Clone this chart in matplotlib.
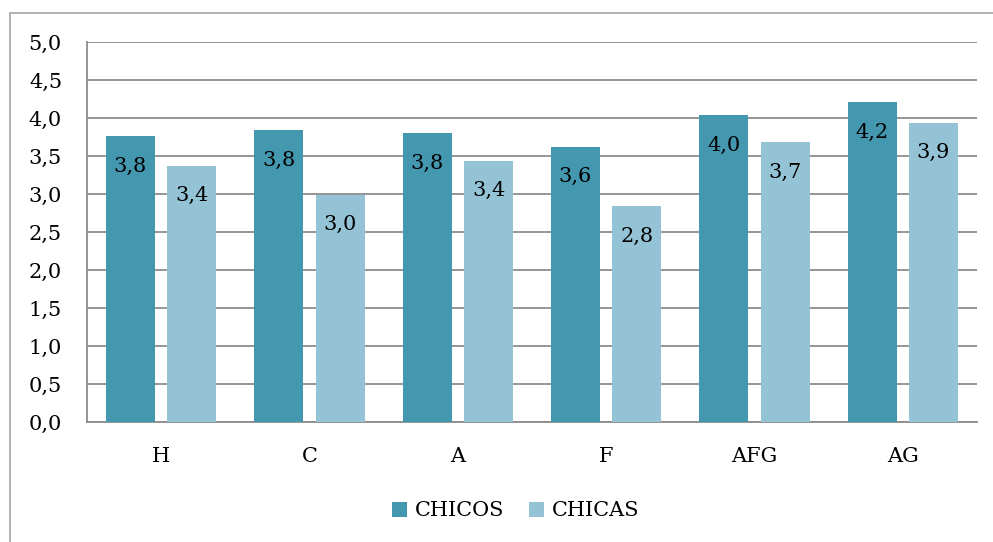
import matplotlib.pyplot as plt
import matplotlib.patches as mpatches
import numpy as np

plt.rcParams['font.family'] = ['DejaVu Serif']

categorias = ['H', 'C', 'A', 'F', 'AFG', 'AG']
chicos = [3.76, 3.84, 3.80, 3.62, 4.04, 4.21]
chicas = [3.37, 2.99, 3.44, 2.84, 3.68, 3.94]

col_chicos = '#4398b0'
col_chicas = '#93c3d5'
gris = '#8c8c8c'
fs = 15


def fmt(v):
    return f'{v:.1f}'.replace('.', ',')


fig = plt.figure(figsize=(9.93, 5.42), dpi=100)
ax = fig.add_axes([87 / 993, 120 / 542, 890 / 993, 380 / 542])

# marco exterior del grafico
fig.patches.append(mpatches.Rectangle((10 / 993, -0.1), 1.2, 0.1 + 529 / 542,
                                      transform=fig.transFigure, fill=False,
                                      edgecolor='#a6a6a6', linewidth=1.2))

ind = np.arange(len(categorias))
width = 0.33
off = 0.207

b1 = ax.bar(ind - off, chicos, width, color=col_chicos, label='CHICOS', zorder=3)
b2 = ax.bar(ind + off, chicas, width, color=col_chicas, label='CHICAS', zorder=3)

for bars, vals in ((b1, chicos), (b2, chicas)):
    for r, v in zip(bars, vals):
        ax.annotate(fmt(v), (r.get_x() + r.get_width() / 2, v),
                    xytext=(0, -30), textcoords='offset pixels',
                    ha='center', va='center', fontsize=fs, zorder=4)

ax.set_xlim(-0.5, len(categorias) - 0.5)
ax.set_ylim(0, 5)
ax.set_yticks(np.arange(0, 5.01, 0.5))
ax.set_yticklabels([fmt(v) for v in np.arange(0, 5.01, 0.5)], fontsize=fs)
ax.set_xticks(ind)
ax.set_xticklabels(categorias, fontsize=fs)
ax.tick_params(axis='y', length=0, pad=18)
ax.tick_params(axis='x', length=0, pad=18)

ax.yaxis.grid(True, color=gris, linewidth=1.3, zorder=0)
ax.set_axisbelow(True)
for s in ('top', 'right'):
    ax.spines[s].set_visible(False)
for s in ('left', 'bottom'):
    ax.spines[s].set_color(gris)
    ax.spines[s].set_linewidth(1.3)

fig.legend(handles=[b1, b2], loc='center', bbox_to_anchor=(516 / 993, 1 - 511 / 542),
           ncol=2, frameon=False, fontsize=fs, handlelength=0.7, handleheight=0.7,
           handletextpad=0.4, columnspacing=1.2)

fig.savefig('out.png', dpi=100)
